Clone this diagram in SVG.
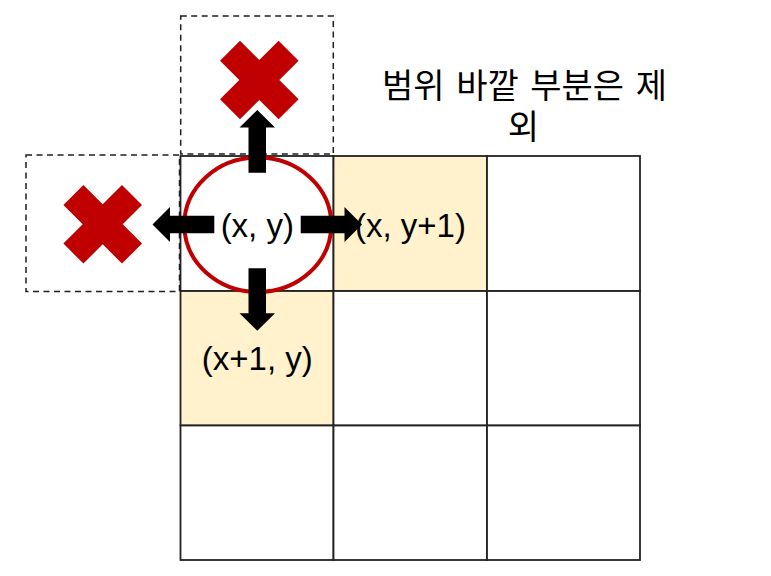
<svg xmlns="http://www.w3.org/2000/svg" width="771" height="576" viewBox="0 0 771 576">
<style>
.cell{fill:#ffffff;stroke:#222222;stroke-width:1.8}
.hl{fill:#fff2cc}
.dash{fill:none;stroke:#1e1e1e;stroke-width:1.5;stroke-dasharray:6 4.5}
.xmark{fill:#c00000}
.arrow{fill:#000000}
.lbl{font-family:"Liberation Sans",Arial,sans-serif;font-size:33px;fill:#000000;text-anchor:middle}
.ko{font-family:"Noto Sans CJK KR","Noto Sans",sans-serif;font-size:34px;fill:#000000;text-anchor:middle;word-spacing:4px}
</style>
<defs>
<polygon id="xshape" points="-39.3,-19.3 -19.3,-39.3 0,-20 19.3,-39.3 39.3,-19.3 20,0 39.3,19.3 19.3,39.3 0,20 -19.3,39.3 -39.3,19.3 -20,0"/>
</defs>
<rect width="771" height="576" fill="#ffffff"/>
<g id="grid">
<rect class="cell" x="180.5" y="156" width="153" height="135"/>
<rect class="cell hl" x="333.5" y="156" width="153.5" height="135"/>
<rect class="cell" x="487" y="156" width="153" height="135"/>
<rect class="cell hl" x="180.5" y="291" width="153" height="134.5"/>
<rect class="cell" x="333.5" y="291" width="153.5" height="134.5"/>
<rect class="cell" x="487" y="291" width="153" height="134.5"/>
<rect class="cell" x="180.5" y="425.5" width="153" height="134.5"/>
<rect class="cell" x="333.5" y="425.5" width="153.5" height="134.5"/>
<rect class="cell" x="487" y="425.5" width="153" height="134.5"/>
</g>
<g id="out-top">
<rect class="dash" x="180.7" y="16" width="152.6" height="138"/>
<use href="#xshape" class="xmark" x="259.3" y="80"/>
</g>
<g id="out-left">
<rect class="dash" x="26" y="155" width="153.5" height="136.5"/>
<use href="#xshape" class="xmark" x="102.7" y="224.3"/>
</g>
<g id="center">
<ellipse cx="257.8" cy="224.8" rx="73.5" ry="67.2" fill="none" stroke="#c00000" stroke-width="4"/>
</g>
<g id="connectors">
<polygon class="arrow" points="257.3,110 275,127.5 266,127.5 266,172.7 248.5,172.7 248.5,127.5 239.5,127.5"/>
<polygon class="arrow" points="152.5,224.5 170,207 170,215.8 214.3,215.8 214.3,233.3 170,233.3 170,242"/>
<polygon class="arrow" points="362,224.5 344.5,207 344.5,215.8 300.7,215.8 300.7,233.3 344.5,233.3 344.5,242"/>
<polygon class="arrow" points="257.3,330.8 275,313.3 266,313.3 266,268.3 248.5,268.3 248.5,313.3 239.5,313.3"/>
</g>
<g id="label-center"><text class="lbl" x="257.3" y="236.5">(x, y)</text></g>
<g id="label-right"><text class="lbl" x="410.5" y="236.5">(x, y+1)</text></g>
<g id="label-down"><text class="lbl" x="257.3" y="370">(x+1, y)</text></g>
<g id="note">
<text class="ko" x="524.5" y="98">범위 바깥 부분은 제</text>
<text class="ko" x="523.5" y="138.5">외</text>
</g>
</svg>
